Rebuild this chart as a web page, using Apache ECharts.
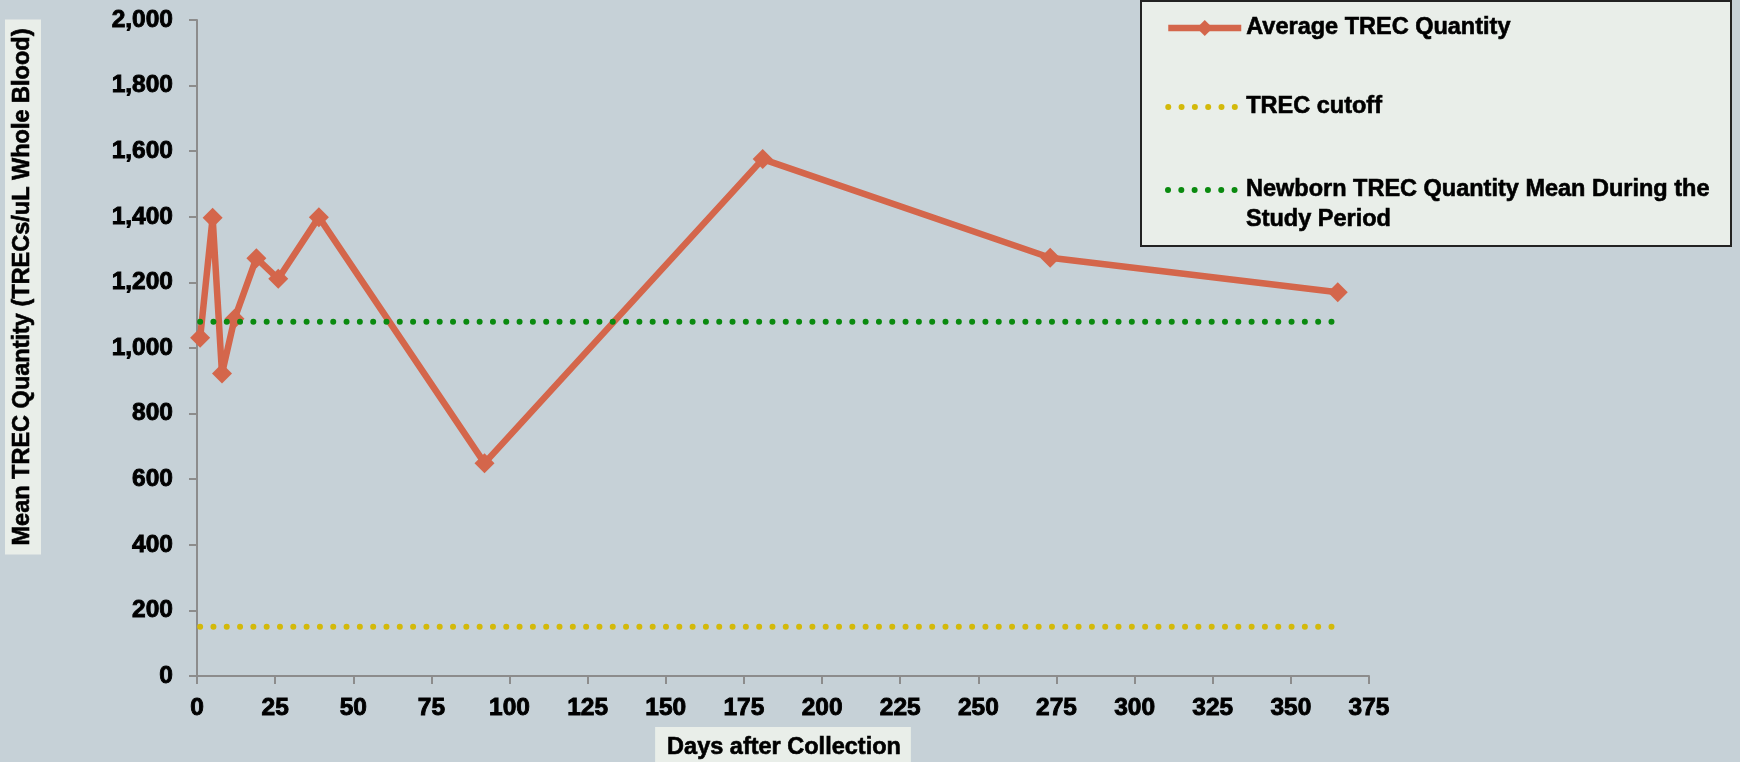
<!DOCTYPE html>
<html>
<head>
<meta charset="utf-8">
<title>Mean TREC Quantity by Days after Collection</title>
<script src="https://cdn.jsdelivr.net/npm/echarts@6/dist/echarts.min.js"></script>
<style>
  html, body { margin: 0; padding: 0; background: #c6d1d7; }
  #chart { width: 1740px; height: 762px; }
</style>
</head>
<body>
<div id="chart"></div>
<script>
// Days after collection at which samples were re-tested
const days = [1, 5, 8, 12, 19, 26, 39, 92, 181, 273, 365];
// Mean TREC quantity (TRECs/uL whole blood) at each test day
const avgTrec = [1031, 1397, 922, 1089, 1274, 1211, 1399, 649, 1576, 1275, 1170];
// Reference levels, drawn across the study period
const refSpan = [1, 365];
const trecCutoff = 150;
const newbornMean = 1080;

const seriesNames = [
  'Average TREC Quantity',
  'TREC cutoff',
  'Newborn TREC Quantity Mean During the Study Period'
];
const yTitle = 'Mean TREC Quantity (TRECs/uL Whole Blood)';
const xTitle = 'Days after Collection';

const FONT = '"Liberation Sans", Arial, sans-serif';
const BOX_BG = '#e9eee9';

const chart = echarts.init(document.getElementById('chart'), null, { renderer: 'canvas' });

const dotted = [0.01, 13.3];

// heavy black text used for tick labels and titles
const heavy = (size) => ({
  fontFamily: FONT, fontWeight: 'bold', fontSize: size, color: '#000',
  textBorderColor: '#000', textBorderWidth: 0.9
});

const legendText = Object.assign(heavy(23.5), { lineHeight: 30, textBorderWidth: 0.6 });

chart.setOption({
  animation: false,
  backgroundColor: '#c6d1d7',
  grid: {
    left: 197, top: 20, width: 1172, height: 656,
    containLabel: false,
    outerBoundsMode: 'none'
  },
  xAxis: {
    type: 'value',
    min: 0, max: 375, interval: 25,
    name: xTitle,
    nameLocation: 'middle',
    nameGap: 51,
    nameTextStyle: Object.assign(heavy(23.5), {
      textBorderWidth: 0.6, backgroundColor: BOX_BG, padding: [9, 10, 12, 12]
    }),
    axisLine: { show: true, lineStyle: { color: '#8c8c8c', width: 2 } },
    axisTick: { show: true, length: 8, lineStyle: { color: '#8c8c8c', width: 2 } },
    axisLabel: Object.assign(heavy(24.5), { margin: 20 }),
    splitLine: { show: false }
  },
  yAxis: {
    type: 'value',
    min: 0, max: 2000, interval: 200,
    axisLine: { show: true, lineStyle: { color: '#8c8c8c', width: 2 } },
    axisTick: { show: true, length: 8, lineStyle: { color: '#8c8c8c', width: 2 } },
    axisLabel: Object.assign(heavy(24.5), {
      margin: 24,
      formatter: v => v.toLocaleString('en-US')
    }),
    splitLine: { show: false }
  },
  legend: [
    {
      data: [
        { name: seriesNames[0] },
        { name: seriesNames[1], itemStyle: { opacity: 0 } }
      ],
      orient: 'vertical',
      left: 1165, top: 13,
      padding: 0,
      itemGap: 49,
      itemWidth: 73, itemHeight: 20,
      itemGap2: 0,
      textStyle: legendText,
      lineStyle: { width: 'inherit' },
      z: 10
    },
    {
      data: [{ name: seriesNames[2], itemStyle: { opacity: 0 } }],
      orient: 'vertical',
      left: 1165, top: 145,
      padding: 0,
      itemWidth: 73, itemHeight: 20,
      textStyle: legendText,
      // blank first line keeps the icon level with the first text line
      formatter: name => '\n' + name.replace(' Study Period', '\nStudy Period'),
      lineStyle: { width: 'inherit' },
      z: 10
    }
  ],
  graphic: [
    {
      type: 'rect',
      z: 5,
      shape: { x: 1141, y: 1, width: 590, height: 245 },
      style: { fill: BOX_BG, stroke: '#222', lineWidth: 2 }
    },
    {
      type: 'text',
      z: 5,
      x: 23, y: 287,
      rotation: Math.PI / 2,
      style: {
        text: yTitle,
        fontFamily: FONT, fontWeight: 'bold', fontSize: 23.5, fill: '#000',
        stroke: '#000', lineWidth: 0.6,
        align: 'center', verticalAlign: 'middle',
        backgroundColor: BOX_BG, padding: [6, 9, 6, 9]
      }
    }
  ],
  series: [
    {
      name: seriesNames[0],
      type: 'line',
      data: days.map((d, i) => [d, avgTrec[i]]),
      symbol: 'diamond',
      symbolSize: 20,
      showSymbol: true,
      lineStyle: { color: '#d4664b', width: 6.5 },
      itemStyle: { color: '#d4664b' },
      z: 2
    },
    {
      name: seriesNames[1],
      type: 'line',
      data: refSpan.map(d => [d, trecCutoff]),
      symbol: 'none',
      lineStyle: { color: '#d3b90a', width: 6, type: dotted, cap: 'round' },
      itemStyle: { color: '#d3b90a' },
      z: 3
    },
    {
      name: seriesNames[2],
      type: 'line',
      data: refSpan.map(d => [d, newbornMean]),
      symbol: 'none',
      lineStyle: { color: '#0a8a0f', width: 6, type: dotted, cap: 'round' },
      itemStyle: { color: '#0a8a0f' },
      z: 3
    }
  ]
});
</script>
</body>
</html>
